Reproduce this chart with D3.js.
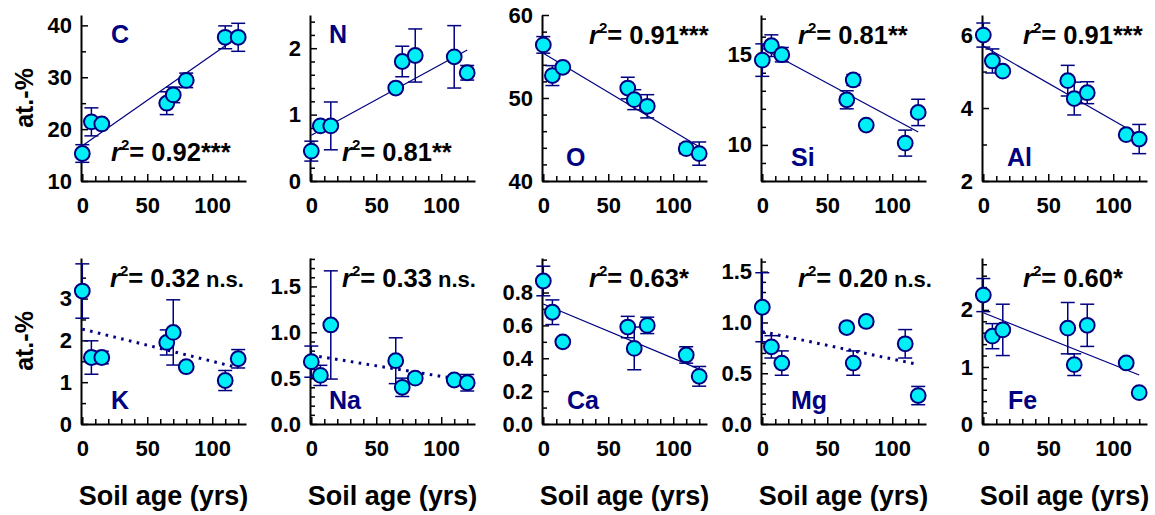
<!DOCTYPE html>
<html>
<head>
<meta charset="utf-8">
<script src="https://cdn.jsdelivr.net/npm/d3@7"></script>
<style>
  html, body { margin: 0; padding: 0; background: #fff; }
  svg { display: block; font-family: "Liberation Sans", Arial, Helvetica, sans-serif; }
</style>
</head>
<body>
<svg id="chart" width="1155" height="515"></svg>
<script>
// Soil age of each sampling site (years)
const ages = [0, 7, 15, 65, 70, 80, 110, 120];

// Element names, one panel each
const elements = ["C", "N", "O", "Si", "Al", "K", "Na", "Ca", "Mg", "Fe"];

// Mean concentrations (at.-%) and standard deviations per element
const C_mean  = [15.3, 21.4, 21.0, 25.0, 26.6, 29.4, 37.7, 37.7];
const C_sd    = [1.7, 2.7, 0.5, 2.2, 1.5, 1.4, 2.2, 2.7];
const N_mean  = [0.45, 0.83, 0.83, 1.40, 1.80, 1.89, 1.87, 1.63];
const N_sd    = [0.15, 0.05, 0.36, 0.05, 0.23, 0.40, 0.47, 0.11];
const O_mean  = [56.4, 52.7, 53.7, 51.2, 49.8, 49.0, 43.9, 43.3];
const O_sd    = [1.0, 1.2, 0.4, 1.3, 1.2, 1.4, 0.6, 1.4];
const Si_mean = [14.7, 15.5, 15.0, 12.5, 13.6, 11.1, 10.1, 11.8];
const Si_sd   = [0.9, 0.6, 0.4, 0.5, 0.3, 0.1, 0.72, 0.73];
const Al_mean = [6.0, 5.29, 5.01, 4.75, 4.26, 4.42, 3.27, 3.15];
const Al_sd   = [0.33, 0.33, 0.08, 0.42, 0.45, 0.3, 0.08, 0.4];
const K_mean  = [3.18, 1.59, 1.59, 1.95, 2.19, 1.37, 1.04, 1.56];
const K_sd    = [0.65, 0.4, 0.15, 0.3, 0.78, 0.06, 0.24, 0.22];
const Na_mean = [0.68, 0.53, 1.08, 0.69, 0.40, 0.50, 0.48, 0.45];
const Na_sd   = [0.17, 0.11, 0.59, 0.25, 0.10, 0.05, 0.03, 0.09];
const Ca_mean = [0.87, 0.68, 0.50, 0.59, 0.46, 0.60, 0.42, 0.29];
const Ca_sd   = [0.09, 0.075, 0.02, 0.065, 0.13, 0.05, 0.05, 0.06];
const Mg_mean = [1.15, 0.76, 0.60, 0.95, 0.60, 1.01, 0.79, 0.28];
const Mg_sd   = [0.34, 0.11, 0.12, 0.04, 0.12, 0.04, 0.14, 0.09];
const Fe_mean = [2.26, 1.54, 1.65, 1.68, 1.04, 1.73, 1.07, 0.55];
const Fe_sd   = [0.29, 0.22, 0.45, 0.45, 0.19, 0.37, 0.07, 0.04];

// Linear regression per element: intercept, slope, r² and significance
const fitIntercept = [16.8, 0.69, 55.4, 15.36, 5.70, 2.27, 0.75, 0.73, 0.91, 1.95];
const fitSlope     = [0.175, 0.0107, -0.094, -0.0387, -0.0204, -0.0077, -0.0023, -0.0033, -0.0027, -0.0091];
const fitDotted    = [false, false, false, false, false, true, true, false, true, false];
const r2Values     = ["0.92", "0.81", "0.91", "0.81", "0.91", "0.32", "0.33", "0.63", "0.20", "0.60"];
const r2Signif     = ["***", "**", "***", "**", "***", "n.s.", "n.s.", "*", "n.s.", "*"];

// Y axes: domains, minor tick step, labelled ticks
const yDomains = [[10, 42], [0, 2.5], [40, 60], [8, 17.2], [2, 6.55],
                  [0, 3.97], [0, 1.81], [0, 1.01], [0, 1.635], [0, 2.91]];
const yTickStep = [5, 0.2, 2, 1, 1, 0.5, 0.1, 0.1, 0.1, 0.2];
const yTickLabels = [
  ["10", "20", "30", "40"], ["0", "1", "2"], ["40", "50", "60"], ["10", "15"], ["2", "4", "6"],
  ["0", "1", "2", "3"], ["0.0", "0.5", "1.0", "1.5"], ["0.0", "0.2", "0.4", "0.6", "0.8"],
  ["0.0", "0.5", "1.0", "1.5"], ["0", "1", "2"]
];
// X axis ticks
const xTicks = [0, 10, 20, 30, 40, 50, 60, 70, 80, 90, 100, 110, 120];
const xTickLabels = ["0", "50", "100"];

const series = {
  C: { mean: C_mean, sd: C_sd }, N: { mean: N_mean, sd: N_sd }, O: { mean: O_mean, sd: O_sd },
  Si: { mean: Si_mean, sd: Si_sd }, Al: { mean: Al_mean, sd: Al_sd }, K: { mean: K_mean, sd: K_sd },
  Na: { mean: Na_mean, sd: Na_sd }, Ca: { mean: Ca_mean, sd: Ca_sd }, Mg: { mean: Mg_mean, sd: Mg_sd },
  Fe: { mean: Fe_mean, sd: Fe_sd }
};

// ---- layout ----
const colLeft = [81, 310, 542, 761, 982];
const rowBottom = [181, 424];
const plotW = 165, plotH = 166;
// label placement inside each panel
const labelLayout = [
  { ex: 30, eTop: true,  rx: 30, rTop: false },
  { ex: 19, eTop: true,  rx: 32, rTop: false },
  { ex: 24, eTop: false, rx: 47, rTop: true },
  { ex: 30, eTop: false, rx: 37, rTop: true },
  { ex: 25, eTop: false, rx: 41, rTop: true },
  { ex: 30, eTop: false, rx: 29, rTop: true },
  { ex: 19, eTop: false, rx: 32, rTop: true },
  { ex: 25, eTop: false, rx: 47, rTop: true },
  { ex: 30, eTop: false, rx: 37, rTop: true },
  { ex: 26, eTop: false, rx: 41, rTop: true }
];

const NAVY = "#000080";
const CYAN = "#00eef6";

const svg = d3.select("#chart");

elements.forEach((el, i) => {
  const col = i % 5, row = Math.floor(i / 5);
  const left = colLeft[col], bottom = rowBottom[row], top = bottom - plotH;
  const x = d3.scaleLinear().domain([-1, 126]).range([left, left + plotW]);
  const y = d3.scaleLinear().domain(yDomains[i]).range([bottom, top]);
  const g = svg.append("g");

  // y axis (ticks point inward)
  const [y0, y1] = yDomains[i];
  const step = yTickStep[i];
  const yt = d3.range(Math.ceil(y0 / step - 1e-9), Math.floor(y1 / step + 1e-9) + 1).map(k => +(k * step).toFixed(6));
  const labelSet = new Map(yTickLabels[i].map(s => [+s, s]));
  const yAxis = d3.axisLeft(y).tickValues(yt).tickSizeInner(-5).tickSizeOuter(0).tickPadding(9)
    .tickFormat(d => labelSet.has(d) ? labelSet.get(d) : "");
  const ya = g.append("g").attr("transform", `translate(${left},0)`).call(yAxis);
  ya.selectAll(".tick line").attr("stroke-width", 1.5).attr("x2", d => labelSet.has(d) ? 7 : 5);

  // x axis
  const xLabelSet = new Set(xTickLabels.map(Number));
  const xAxis = d3.axisBottom(x).tickValues(xTicks).tickSizeInner(-5).tickSizeOuter(0).tickPadding(16)
    .tickFormat(d => xLabelSet.has(d) ? String(d) : "");
  const xa = g.append("g").attr("transform", `translate(0,${bottom})`).call(xAxis);
  xa.selectAll(".tick line").attr("stroke-width", 1.5).attr("y2", d => xLabelSet.has(d) ? -7 : -5);

  [ya, xa].forEach(a => {
    a.attr("font-family", null);
    a.select(".domain").attr("stroke", "#000").attr("stroke-width", 2);
    a.selectAll(".tick text").attr("font-size", 22).attr("font-weight", "bold").attr("fill", "#000");
  });

  // data
  const s = series[el];
  const pts = ages.map((a, k) => ({ a, m: s.mean[k], sd: s.sd[k] }));

  // error bars
  const eb = g.append("g").attr("stroke", NAVY).attr("stroke-width", 1.5).attr("fill", "none");
  pts.forEach(p => {
    const cx = x(p.a), yu = y(p.m + p.sd), yl = y(p.m - p.sd);
    eb.append("line").attr("x1", cx).attr("x2", cx).attr("y1", yu).attr("y2", yl);
    eb.append("line").attr("x1", cx - 7).attr("x2", cx + 7).attr("y1", yu).attr("y2", yu);
    eb.append("line").attr("x1", cx - 7).attr("x2", cx + 7).attr("y1", yl).attr("y2", yl);
  });

  // regression line
  const fx = [0, 120];
  const fit = g.append("line")
    .attr("x1", x(fx[0])).attr("y1", y(fitIntercept[i] + fitSlope[i] * fx[0]))
    .attr("x2", x(fx[1])).attr("y2", y(fitIntercept[i] + fitSlope[i] * fx[1]))
    .attr("stroke", NAVY);
  if (fitDotted[i]) {
    fit.attr("stroke-width", 3).attr("stroke-dasharray", "2.6,5.4");
  } else {
    fit.attr("stroke-width", 1.2);
  }

  // markers
  g.append("g").selectAll("circle").data(pts).join("circle")
    .attr("cx", d => x(d.a)).attr("cy", d => y(d.m)).attr("r", 7.4)
    .attr("fill", CYAN).attr("stroke", NAVY).attr("stroke-width", 2);

  // element label
  const L = labelLayout[i];
  g.append("text")
    .attr("x", left + L.ex).attr("y", L.eTop ? top + 28 : bottom - 15)
    .attr("font-size", 25).attr("font-weight", "bold").attr("fill", NAVY)
    .text(el);

  // r² label
  const rt = g.append("text")
    .attr("x", left + L.rx).attr("y", L.rTop ? top + 29 : bottom - 20)
    .attr("font-size", 25.5).attr("font-weight", "bold").attr("fill", "#000");
  rt.append("tspan").attr("font-style", "italic").text("r");
  rt.append("tspan").attr("font-size", 15).attr("dy", -11).text("2");
  rt.append("tspan").attr("dy", 11).text("= " + r2Values[i]);
  if (r2Signif[i] === "n.s.") {
    rt.append("tspan").attr("font-size", 22).text(" n.s.");
  } else {
    rt.append("tspan").text(r2Signif[i]);
  }
});

// axis titles
rowBottom.forEach(b => {
  svg.append("text")
    .attr("transform", `translate(33,${b - plotH / 2}) rotate(-90)`)
    .attr("text-anchor", "middle")
    .attr("font-size", 25).attr("font-weight", "bold").attr("fill", "#000")
    .text("at.-%");
});
colLeft.forEach(l => {
  svg.append("text")
    .attr("x", l + plotW / 2).attr("y", 505)
    .attr("text-anchor", "middle")
    .attr("font-size", 27).attr("font-weight", "bold").attr("fill", "#000")
    .text("Soil age (yrs)");
});
</script>
</body>
</html>
